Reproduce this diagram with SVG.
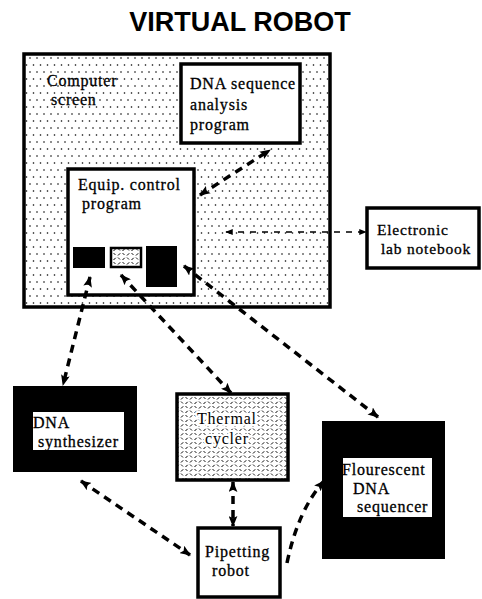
<svg xmlns="http://www.w3.org/2000/svg" width="482" height="599" viewBox="0 0 482 599">
<style>
.t{font-family:"Liberation Serif","Times New Roman",serif;font-size:16px;letter-spacing:0.8px;fill:#000;stroke:#000;stroke-width:0.3}
.s{font-size:15.5px}
.title{font-family:"Liberation Sans",Arial,sans-serif;font-weight:bold;font-size:27px;fill:#000}
.box{stroke:#000;stroke-width:3.5;fill:#fff}
.con{fill:none;stroke:#000;stroke-width:3.5;stroke-dasharray:8 6}
.thin{fill:none;stroke:#000;stroke-width:1.6;stroke-dasharray:6 6}
.halo{stroke:#fff;stroke-width:4;paint-order:stroke;stroke-linejoin:round}
</style>
<defs>
<pattern id="dots" width="7" height="14" patternUnits="userSpaceOnUse">
<rect width="7" height="14" fill="#fff"/>
<circle cx="2" cy="2" r="0.8" fill="#000"/>
<circle cx="5.5" cy="9" r="0.8" fill="#000"/>
</pattern>
<pattern id="hatch" width="9" height="9" patternUnits="userSpaceOnUse">
<rect width="9" height="9" fill="#fff"/>
<path d="M1,3.5 L3.2,1.3 M5.5,8 L7.7,5.8" stroke="#000" stroke-width="1"/>
<path d="M5.5,1 L7.5,3 M1,5.5 L3,7.5" stroke="#000" stroke-width="0.9"/>
</pattern>
<marker id="ah" viewBox="0 0 10 8" refX="9" refY="4" markerWidth="11" markerHeight="9" markerUnits="userSpaceOnUse" orient="auto-start-reverse">
<path d="M0,0 L10,4 L0,8 L2,4 z" fill="#000"/>
</marker>
<marker id="ahs" viewBox="0 0 10 8" refX="9" refY="4" markerWidth="8" markerHeight="6" markerUnits="userSpaceOnUse" orient="auto-start-reverse">
<path d="M0,0 L10,4 L0,8 z" fill="#000"/>
</marker>
</defs>
<rect width="482" height="599" fill="#fff"/>
<text class="title" x="240" y="31" text-anchor="middle">VIRTUAL  ROBOT</text>

<g id="computer-screen">
<rect x="24" y="54" width="306" height="253" fill="url(#dots)" stroke="#000" stroke-width="3.5"/>
<text class="t" x="47" y="86">Computer</text>
<text class="t" x="51" y="105">screen</text>
</g>

<g id="dna-analysis">
<rect class="box" x="181" y="64" width="119" height="79"/>
<text class="t" x="190" y="89">DNA sequence</text>
<text class="t" x="190" y="110">analysis</text>
<text class="t" x="190" y="130">program</text>
</g>

<g id="equip-control">
<rect class="box" x="68" y="169" width="126" height="126"/>
<text class="t" x="78" y="190">Equip. control</text>
<text class="t" x="82" y="209">program</text>
<rect x="73" y="247" width="32" height="21" fill="#000"/>
<rect x="111" y="248" width="30" height="19" fill="url(#hatch)" stroke="#000" stroke-width="2.5"/>
<rect x="146" y="246" width="31" height="41" fill="#000"/>
</g>

<g id="notebook">
<rect class="box" x="367" y="208" width="112" height="60"/>
<text class="t s" x="377" y="235">Electronic</text>
<text class="t s" x="381" y="254">lab notebook</text>
</g>

<g id="dna-synth">
<rect x="13" y="386" width="124" height="86" fill="#000"/>
<rect x="33" y="412" width="91" height="38" fill="#fff"/>
<text class="t" x="33" y="428">DNA</text>
<text class="t" x="38" y="447">synthesizer</text>
</g>

<g id="thermal">
<rect x="177" y="394" width="111" height="86" fill="url(#hatch)" stroke="#000" stroke-width="3.5"/>
<text class="t halo" x="197" y="424">Thermal</text>
<text class="t halo" x="205" y="444">cycler</text>
</g>

<g id="sequencer">
<rect x="322" y="421" width="123" height="138" fill="#000"/>
<rect x="343" y="458" width="89" height="59" fill="#fff"/>
<text class="t" x="342" y="475">Flourescent</text>
<text class="t" x="353" y="494">DNA</text>
<text class="t" x="357" y="512">sequencer</text>
</g>

<g id="pipetting">
<rect class="box" x="198" y="528" width="82" height="69"/>
<text class="t" x="205" y="557">Pipetting</text>
<text class="t" x="212" y="576">robot</text>
</g>

<g id="connectors">
<line class="con" x1="200" y1="195" x2="270" y2="150" marker-start="url(#ah)" marker-end="url(#ah)"/>
<line class="thin" x1="226" y1="232" x2="366" y2="232" marker-start="url(#ahs)" marker-end="url(#ahs)"/>
<line class="con" x1="90" y1="277" x2="63" y2="385" marker-start="url(#ah)" marker-end="url(#ah)"/>
<line class="con" x1="121" y1="275" x2="231" y2="393" marker-start="url(#ah)" marker-end="url(#ah)"/>
<line class="con" x1="184" y1="266" x2="378" y2="417" marker-start="url(#ah)" marker-end="url(#ah)"/>
<line class="con" x1="233" y1="482" x2="233" y2="526" marker-start="url(#ah)" marker-end="url(#ah)" stroke-dasharray="14 5"/>
<line class="con" x1="81" y1="481" x2="190" y2="555" marker-start="url(#ah)" marker-end="url(#ah)"/>
<path class="con" d="M287,563 Q298,510 324,481" marker-end="url(#ah)"/>
</g>
</svg>
